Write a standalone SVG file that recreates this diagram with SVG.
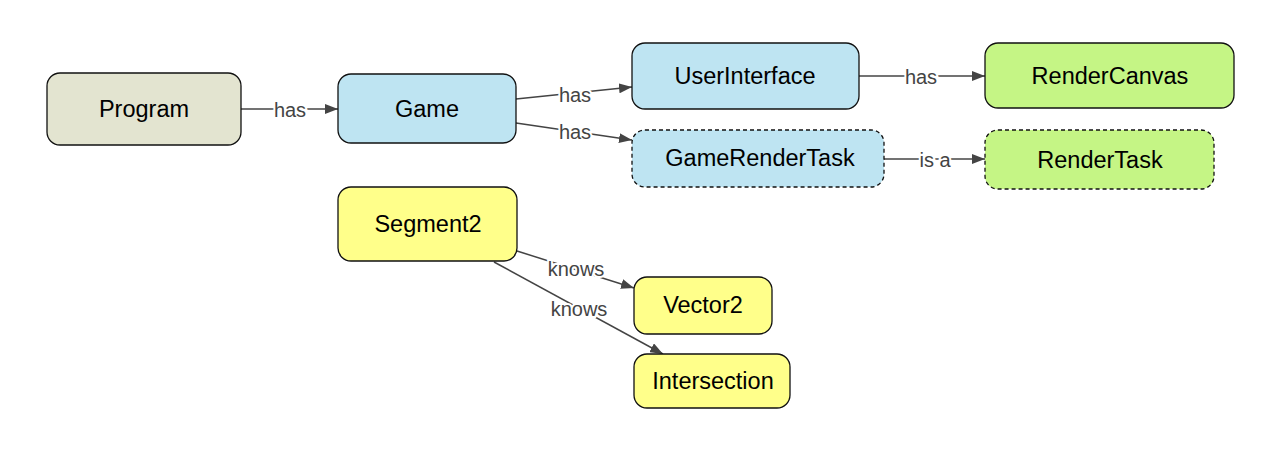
<svg xmlns="http://www.w3.org/2000/svg" width="1275" height="453" viewBox="0 0 1275 453">
<defs>
<marker id="arr" markerWidth="14" markerHeight="10" refX="13" refY="5" orient="auto" markerUnits="userSpaceOnUse">
<path d="M0,0 L13,5 L0,10 Z" fill="#444"/>
</marker>
<style>
.n{stroke:#111;stroke-width:1.3}
.d{stroke-dasharray:4,3}
.t{font-family:"Liberation Sans",Arial,sans-serif;font-size:23.5px;fill:#000;text-anchor:middle;dominant-baseline:central}
.e{stroke:#444;stroke-width:1.5;fill:none;marker-end:url(#arr)}
.l{font-family:"Liberation Sans",Arial,sans-serif;font-size:20px;fill:#444;text-anchor:middle;dominant-baseline:central;stroke:#fff;stroke-width:4;paint-order:stroke}
.gr{fill:#e3e4d0}.bl{fill:#bee4f2}.gn{fill:#c5f585}.ye{fill:#ffff8a}
</style>
</defs>
<rect width="1275" height="453" fill="#fff"/>
<g id="connectors">
<line class="e" x1="241" y1="109" x2="338" y2="109"/>
<text class="l" x="290" y="110">has</text>
<line class="e" x1="516" y1="99" x2="632" y2="87"/>
<text class="l" x="575" y="95">has</text>
<line class="e" x1="516" y1="123" x2="632" y2="140"/>
<text class="l" x="575" y="132">has</text>
<line class="e" x1="859" y1="76" x2="985" y2="76"/>
<text class="l" x="921" y="77">has</text>
<line class="e" x1="884" y1="159" x2="985" y2="159"/>
<text class="l" x="935" y="160">is a</text>
<line class="e" x1="517" y1="251" x2="634" y2="288"/>
<text class="l" x="576" y="269">knows</text>
<line class="e" x1="494" y1="262" x2="663" y2="354"/>
<text class="l" x="579" y="309">knows</text>
</g>
<g id="Program"><rect class="n gr" x="47" y="73" width="194" height="72" rx="13"/><text class="t" x="144" y="109">Program</text></g>
<g id="Game"><rect class="n bl" x="338" y="74" width="178" height="69" rx="13"/><text class="t" x="427" y="109">Game</text></g>
<g id="UserInterface"><rect class="n bl" x="632" y="43" width="227" height="66" rx="13"/><text class="t" x="745" y="76">UserInterface</text></g>
<g id="GameRenderTask"><rect class="n bl d" x="632" y="130" width="252" height="57" rx="13"/><text class="t" x="760" y="158">GameRenderTask</text></g>
<g id="RenderCanvas"><rect class="n gn" x="985" y="43" width="249" height="65" rx="13"/><text class="t" x="1110" y="76">RenderCanvas</text></g>
<g id="RenderTask"><rect class="n gn d" x="985" y="130" width="229" height="59" rx="13"/><text class="t" x="1100" y="160">RenderTask</text></g>
<g id="Segment2"><rect class="n ye" x="338" y="187" width="179" height="74" rx="13"/><text class="t" x="428" y="224">Segment2</text></g>
<g id="Vector2"><rect class="n ye" x="634" y="277" width="138" height="57" rx="13"/><text class="t" x="703" y="305">Vector2</text></g>
<g id="Intersection"><rect class="n ye" x="634" y="354" width="156" height="54" rx="13"/><text class="t" x="713" y="381">Intersection</text></g>
</svg>
